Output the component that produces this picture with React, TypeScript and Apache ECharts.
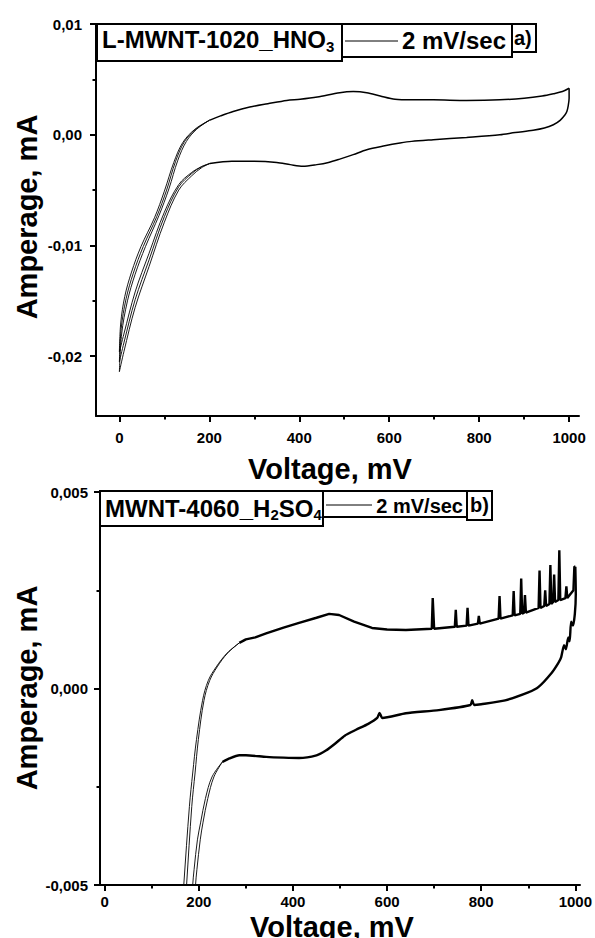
import React, { useEffect, useRef } from 'react';
import * as echarts from 'echarts';

const FONT = '"Liberation Sans", Arial, Helvetica, sans-serif';

// ---------- chart a) L-MWNT-1020_HNO3 ----------
const aTicksX = [0, 200, 400, 600, 800, 1000];
const aMinorX = [100, 300, 500, 700, 900];
const aTicksY = [-0.02, -0.01, 0, 0.01];
const aMinorY = [-0.015, -0.005, 0.005];

const aUpperShared: [number, number][] = [
  [200, 0.0013], [225, 0.0017], [253, 0.0021], [290, 0.0025], [330, 0.0028], [372, 0.0031],
  [402, 0.0032], [440, 0.0034], [490, 0.0038], [520, 0.0039], [550, 0.0038], [580, 0.0035],
  [613, 0.0032], [650, 0.00315], [698, 0.00315], [772, 0.0031], [846, 0.00315], [900, 0.0033],
  [940, 0.0035], [965, 0.0037], [985, 0.0039], [1000, 0.0042],
];
const aLowerShared: [number, number][] = [
  [1000, 0.0042], [1000, 0.0033], [998, 0.0026], [995, 0.0021], [991, 0.0018], [980, 0.0013],
  [965, 0.0009], [945, 0.0006], [920, 0.0004], [880, 0.0002], [846, 0.0], [772, -0.00024],
  [698, -0.00045], [650, -0.0006], [624, -0.00075], [590, -0.001], [550, -0.00135], [520, -0.0018],
  [490, -0.0022], [465, -0.0025], [439, -0.0027], [408, -0.00285], [380, -0.0027], [350, -0.0025],
  [300, -0.0024], [250, -0.0024], [201, -0.0026],
];
const aUp1: [number, number][] = [
  [0, -0.0205], [4, -0.0175], [15, -0.0148], [31, -0.0125], [53, -0.0101], [83, -0.0074],
  [105, -0.005], [125, -0.0024], [145, -0.0006], [170, 0.0005], [200, 0.0013],
];
const aUp2: [number, number][] = [
  [0, -0.0214], [5, -0.018], [18, -0.015], [35, -0.0126], [58, -0.0101], [88, -0.0073],
  [110, -0.0049], [130, -0.0023], [149, -0.0006], [172, 0.0005], [200, 0.0013],
];
const aUp3: [number, number][] = [
  [0, -0.0196], [3, -0.017], [12, -0.0146], [27, -0.0124], [48, -0.0101], [78, -0.0075],
  [100, -0.0051], [121, -0.0025], [141, -0.0007], [168, 0.0005], [200, 0.0013],
];
const aLo1: [number, number][] = [
  [201, -0.0026], [182, -0.0029], [161, -0.0035], [132, -0.0047], [100, -0.0074], [66, -0.0113],
  [35, -0.0149], [10, -0.0188], [0, -0.0205],
];
const aLo2: [number, number][] = [
  [201, -0.0026], [182, -0.003], [161, -0.0037], [132, -0.005], [100, -0.0079], [66, -0.0119],
  [35, -0.0156], [10, -0.0196], [0, -0.0214],
];
const aLo3: [number, number][] = [
  [201, -0.0026], [182, -0.0029], [161, -0.0034], [132, -0.0045], [100, -0.007], [66, -0.0107],
  [35, -0.0142], [10, -0.018], [0, -0.0196],
];

// ---------- chart b) MWNT-4060_H2SO4 ----------
const bTicksX = [0, 200, 400, 600, 800, 1000];
const bMinorX = [100, 300, 500, 700, 900];
const bTicksY = [-0.005, 0, 0.005];
const bMinorY = [-0.0025, 0.0025];

const bUp1: [number, number][] = [
  [165, -0.0056], [168, -0.005], [180, -0.003], [187, -0.00215], [195, -0.0013], [208, -0.0003],
  [220, 0.0002], [237, 0.00055], [260, 0.0009], [286, 0.00116],
];
const bUp2: [number, number][] = [
  [171, -0.0056], [174, -0.005], [185, -0.003], [192, -0.00215], [199, -0.0013], [211, -0.0003],
  [223, 0.0002], [239, 0.00055], [261, 0.0009], [286, 0.00116],
];
const bUpperShared: [number, number][] = [
  [286, 0.00116], [300, 0.00125], [320, 0.0013], [343, 0.0014], [380, 0.00155], [413, 0.00167],
  [450, 0.0018], [477, 0.0019], [498, 0.00187], [530, 0.0017], [568, 0.00154], [600, 0.0015],
  [640, 0.00149], [695, 0.00152], [697, 0.0023], [700, 0.00152], [744, 0.00157], [746, 0.002],
  [748, 0.00157], [769, 0.0016], [771, 0.00205], [773, 0.0016], [793, 0.00165], [795, 0.00185],
  [797, 0.00165], [837, 0.00178], [839, 0.00235], [841, 0.00178], [867, 0.00186], [869, 0.00248],
  [871, 0.00186], [883, 0.0019], [885, 0.0028], [887, 0.0019], [891, 0.00193], [893, 0.00238],
  [895, 0.00193], [922, 0.00205], [924, 0.003], [926, 0.00205], [934, 0.0021], [936, 0.0025],
  [938, 0.0021], [945, 0.00215], [947, 0.00314], [949, 0.00215], [953, 0.0022], [955, 0.0029],
  [957, 0.0022], [964, 0.00225], [966, 0.00352], [968, 0.00225], [979, 0.0023], [981, 0.0026],
  [983, 0.0023], [996, 0.0025], [998, 0.0031], [1000, 0.0031],
];
const bLowerShared: [number, number][] = [
  [1000, 0.0031], [1001, 0.0024], [999, 0.0019], [995, 0.0016], [991, 0.0017], [988, 0.0012],
  [985, 0.0013], [980, 0.001], [976, 0.0011], [970, 0.0008], [964, 0.00065], [950, 0.0004],
  [922, 0.00004], [900, -0.0001], [851, -0.0003], [800, -0.0004], [785, -0.00042], [781, -0.0003],
  [777, -0.00042], [710, -0.00055], [640, -0.00063], [590, -0.00075], [584, -0.00062],
  [579, -0.00075], [560, -0.0009], [534, -0.00105], [510, -0.0012], [490, -0.0014], [470, -0.00158],
  [450, -0.0017], [413, -0.00177], [380, -0.00176], [343, -0.00174], [300, -0.0017], [286, -0.0017],
  [265, -0.00178], [250, -0.00187],
];
const bLo1: [number, number][] = [
  [250, -0.00187], [228, -0.00225], [214, -0.0028], [204, -0.0034], [197, -0.00385],
  [190, -0.0046], [187, -0.005], [185, -0.0056],
];
const bLo2: [number, number][] = [
  [250, -0.00187], [232, -0.00225], [219, -0.0028], [209, -0.0034], [203, -0.00385],
  [196, -0.0046], [193, -0.005], [191, -0.0056],
];

const fmt = (d: number) => (v: number) => {
  const s = Math.abs(v) < 1e-12 ? (0).toFixed(d) : v.toFixed(d);
  return s.replace('.', ',');
};

function xAxes(gridIndex: number, min: number, max: number, ticks: number[], minor: number[], margin: number) {
  return [
    {
      type: 'value', gridIndex, min, max, position: 'bottom',
      axisLine: { show: true, onZero: false, lineStyle: { color: '#000', width: 2 } },
      axisTick: { show: true, customValues: ticks, length: 6, inside: false, lineStyle: { color: '#000', width: 2 } },
      axisLabel: {
        show: true, customValues: ticks, margin, color: '#000', fontSize: 15, fontWeight: 'bold',
        fontFamily: FONT, formatter: (v: number) => String(v),
      },
      splitLine: { show: false },
    },
    {
      type: 'value', gridIndex, min, max, position: 'bottom',
      axisLine: { show: false, onZero: false },
      axisTick: { show: true, customValues: minor, length: 3.5, inside: false, lineStyle: { color: '#000', width: 2 } },
      axisLabel: { show: false },
      splitLine: { show: false },
    },
  ];
}

function yAxes(gridIndex: number, min: number, max: number, ticks: number[], minor: number[], dec: number, margin: number) {
  return [
    {
      type: 'value', gridIndex, min, max, position: 'left',
      axisLine: { show: true, onZero: false, lineStyle: { color: '#000', width: 2 } },
      axisTick: { show: true, customValues: ticks, length: 6, inside: false, lineStyle: { color: '#000', width: 2 } },
      axisLabel: {
        show: true, customValues: ticks, margin, color: '#000', fontSize: 15, fontWeight: 'bold',
        fontFamily: FONT, formatter: fmt(dec),
      },
      splitLine: { show: false },
    },
    {
      type: 'value', gridIndex, min, max, position: 'left',
      axisLine: { show: false, onZero: false },
      axisTick: { show: true, customValues: minor, length: 3.5, inside: false, lineStyle: { color: '#000', width: 2 } },
      axisLabel: { show: false },
      splitLine: { show: false },
    },
  ];
}

function line(data: [number, number][], xAxisIndex: number, yAxisIndex: number, width: number, smooth: number | boolean) {
  return {
    type: 'line', data, xAxisIndex, yAxisIndex, showSymbol: false, symbol: 'none', smooth,
    lineStyle: { color: '#000', width }, silent: true, clip: true,
  };
}

const boldText = (x: number, y: number, text: string, size: number, align: string, rotation = 0) => ({
  type: 'text', x, y, rotation, silent: true,
  style: {
    text, fill: '#000', fontSize: size, fontWeight: 'bold', fontFamily: FONT,
    align, verticalAlign: 'middle',
  },
});

const box = (x1: number, y1: number, x2: number, y2: number) => ({
  type: 'rect', silent: true,
  shape: { x: x1, y: y1, width: x2 - x1, height: y2 - y1 },
  style: { fill: 'none', stroke: '#000', lineWidth: 2 },
});

const richLabel = (x: number, y: number, text: string) => ({
  type: 'text', x, y, silent: true,
  style: {
    text, fill: '#000', verticalAlign: 'top', align: 'left',
    rich: {
      m: { fontSize: 24, fontWeight: 'bold', fontFamily: FONT, lineHeight: 28, fill: '#000' },
      s: { fontSize: 15, fontWeight: 'bold', fontFamily: FONT, lineHeight: 11, verticalAlign: 'bottom', fill: '#000' },
    },
  },
});

export default function App() {
  const ref = useRef<HTMLDivElement>(null);
  useEffect(() => {
    document.body.style.margin = '0';
    if (!ref.current) return;
    const chart = echarts.init(ref.current, null, { renderer: 'svg' });
    const option = {
      animation: false,
      backgroundColor: '#fff',
      grid: [
        { left: 96, top: 24, width: 483, height: 392 },
        { left: 100, top: 492, width: 482, height: 393 },
      ],
      xAxis: [
        ...xAxes(0, -52, 1022, aTicksX, aMinorX, 14),
        ...xAxes(1, -10, 1010, bTicksX, bMinorX, 9),
      ],
      yAxis: [
        ...yAxes(0, -0.0254, 0.01, aTicksY, aMinorY, 2, 14),
        ...yAxes(1, -0.005, 0.005, bTicksY, bMinorY, 3, 12),
      ],
      series: [
        line(aUpperShared, 0, 0, 1.5, 0.3),
        line(aLowerShared, 0, 0, 1.5, 0.3),
        line(aUp1, 0, 0, 0.9, 0.35),
        line(aUp2, 0, 0, 0.9, 0.35),
        line(aUp3, 0, 0, 0.9, 0.35),
        line(aLo1, 0, 0, 0.9, 0.35),
        line(aLo2, 0, 0, 0.9, 0.35),
        line(aLo3, 0, 0, 0.9, 0.35),
        line(bUp1, 2, 2, 0.9, 0.35),
        line(bUp2, 2, 2, 0.9, 0.35),
        line(bUpperShared, 2, 2, 2.4, false),
        line(bLowerShared, 2, 2, 2.4, 0.2),
        line(bLo1, 2, 2, 0.9, 0.35),
        line(bLo2, 2, 2, 0.9, 0.35),
      ],
      graphic: [
        // axis titles
        boldText(27, 217, 'Amperage, mA', 29, 'center', Math.PI / 2),
        boldText(330, 469, 'Voltage, mV', 29, 'center'),
        boldText(27, 688, 'Amperage, mA', 29, 'center', Math.PI / 2),
        boldText(332, 927, 'Voltage, mV', 29, 'center'),
        // legend a
        box(97, 24, 342, 61),
        box(342, 24, 512, 57),
        box(512, 24, 536, 52),
        richLabel(102, 25.5, '{m|L-MWNT-1020_HNO}{s|3}'),
        { type: 'line', silent: true, shape: { x1: 345, y1: 41, x2: 398, y2: 41 }, style: { stroke: '#000', lineWidth: 1 } },
        boldText(506, 40, '2 mV/sec', 24, 'right'),
        boldText(514, 38, 'a)', 20, 'left'),
        // legend b
        box(100, 491, 323, 526),
        box(323, 491, 467, 517),
        box(467, 491, 492, 520),
        richLabel(105, 494, '{m|MWNT-4060_H}{s|2}{m|SO}{s|4}'),
        { type: 'line', silent: true, shape: { x1: 326, y1: 505, x2: 372, y2: 505 }, style: { stroke: '#000', lineWidth: 1 } },
        boldText(463, 505.5, '2 mV/sec', 20, 'right'),
        boldText(470, 505, 'b)', 20, 'left'),
      ],
    };
    chart.setOption(option as any);
    return () => chart.dispose();
  }, []);
  return <div ref={ref} style={{ width: 595, height: 938 }} />;
}
